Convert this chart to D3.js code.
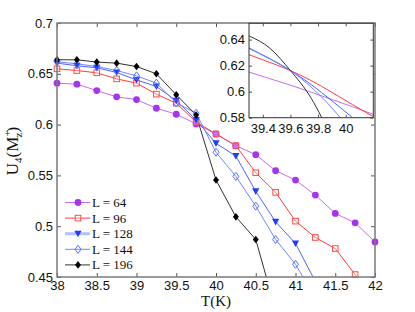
<!DOCTYPE html>
<html>
<head>
<meta charset="utf-8">
<script src="https://cdn.jsdelivr.net/npm/d3@7"></script>
<style>
  body { margin: 0; background: #fff; }
  svg { display: block; font-family: "Liberation Serif", "DejaVu Serif", serif; }
</style>
</head>
<body>
<script>
// temperatures (K)
const temps = [38, 38.25, 38.5, 38.75, 39, 39.25, 39.5, 39.75, 40, 40.25, 40.5, 40.75, 41, 41.25, 41.5, 41.75, 42];

// Binder cumulant U4 for each L
const u64  = [0.6408, 0.6398, 0.6335, 0.6273, 0.6246, 0.6161, 0.6102, 0.6007, 0.5908, 0.5792, 0.5704, 0.5546, 0.5454, 0.5306, 0.5126, 0.5033, 0.4845];
const u96  = [0.6549, 0.6532, 0.6510, 0.6450, 0.6408, 0.6300, 0.6210, 0.6025, 0.5908, 0.5792, 0.5526, 0.5333, 0.5050, 0.4889, 0.4780, 0.4524, 0.4250];
const u128 = [0.6605, 0.6579, 0.6559, 0.6513, 0.6440, 0.6375, 0.6235, 0.6046, 0.5816, 0.5690, 0.5343, 0.5043, 0.4830, 0.4455];
const u144 = [0.6618, 0.6598, 0.6572, 0.6532, 0.6480, 0.6408, 0.6215, 0.6112, 0.5728, 0.5490, 0.5198, 0.4869, 0.4625, 0.4290];
const u196 = [0.6638, 0.6638, 0.6615, 0.6605, 0.6572, 0.6500, 0.6293, 0.6095, 0.5454, 0.5092, 0.4869, 0.4175];

// inset: smooth fitted curves near the crossing
const fitT   = [39.3, 39.45, 39.6, 39.75, 39.9, 40.05, 40.2];
const fit64  = [0.6150, 0.6100, 0.6050, 0.5996, 0.5940, 0.5884, 0.5826];
const fit96  = [0.6284, 0.6225, 0.6162, 0.6085, 0.5995, 0.5900, 0.5808];
const fit128 = [0.6332, 0.6252, 0.6162, 0.6055, 0.5930, 0.5800, 0.5660];
const fit144 = [0.6337, 0.6255, 0.6162, 0.6035, 0.5875, 0.5680, 0.5460];
const fit196 = [0.6428, 0.6335, 0.6162, 0.5950, 0.5640, 0.5300, 0.4900];

const labels = ["L = 64", "L = 96", "L = 128", "L = 144", "L = 196"];
const xTicks = [38, 38.5, 39, 39.5, 40, 40.5, 41, 41.5, 42];
const yTicks = [0.45, 0.5, 0.55, 0.6, 0.65, 0.7];
const insetXTicks = [39.4, 39.6, 39.8, 40];
const insetYTicks = [0.58, 0.6, 0.62, 0.64];

const series = [
  {label: labels[0], u: u64,  fit: fit64,  line: "#c46ef2", mark: "#a633ee", sym: "circle"},
  {label: labels[1], u: u96,  fit: fit96,  line: "#ff3c3c", mark: "#ff4a4a", sym: "square"},
  {label: labels[2], u: u128, fit: fit128, line: "#4a66ff", mark: "#1f3cff", sym: "tri", legendLine: "#b4c2ff"},
  {label: labels[3], u: u144, fit: fit144, line: "#6f88ff", mark: "#5572ff", sym: "diamond"},
  {label: labels[4], u: u196, fit: fit196, line: "#333333", mark: "#000000", sym: "bdiamond"}
];

const width = 415, height = 312;
const m = {left: 57, right: 40, top: 23, bottom: 35};

const x = d3.scaleLinear().domain([38, 42]).range([m.left, width - m.right]);
const y = d3.scaleLinear().domain([0.45, 0.7]).range([height - m.bottom, m.top]);

const svg = d3.select("body").append("svg")
    .attr("width", width)
    .attr("height", height);

svg.append("defs").append("clipPath").attr("id", "clip")
  .append("rect")
    .attr("x", x(38)).attr("y", y(0.7))
    .attr("width", x(42) - x(38)).attr("height", y(0.45) - y(0.7));

// axes, ticks pointing inwards
function styleAxis(g) {
  g.select(".domain").remove();
  g.selectAll(".tick line").attr("stroke", "#555");
  g.selectAll(".tick text").attr("fill", "#111").style("font-size", "13px");
}

svg.append("g")
    .attr("transform", `translate(0,${y(0.45)})`)
    .call(d3.axisBottom(x).tickValues(xTicks).tickFormat(d3.format("")).tickSizeInner(-4).tickPadding(4))
    .call(styleAxis);
svg.append("g")
    .attr("transform", `translate(0,${y(0.7)})`)
    .call(d3.axisTop(x).tickValues(xTicks).tickFormat("").tickSizeInner(-4))
    .call(styleAxis);
svg.append("g")
    .attr("transform", `translate(${x(38)},0)`)
    .call(d3.axisLeft(y).tickValues(yTicks).tickFormat(d3.format("")).tickSizeInner(-4).tickPadding(4))
    .call(styleAxis);
svg.append("g")
    .attr("transform", `translate(${x(42)},0)`)
    .call(d3.axisRight(y).tickValues(yTicks).tickFormat("").tickSizeInner(-4))
    .call(styleAxis);

const plot = svg.append("g");

const line = d3.line()
    .x((d, i) => x(temps[i]))
    .y(d => y(d));

plot.selectAll(".series")
  .data(series)
  .enter().append("path")
    .attr("clip-path", "url(#clip)")
    .attr("fill", "none")
    .attr("stroke", d => d.line)
    .attr("stroke-width", 1)
    .attr("d", d => line(d.u));

function marker(g, sym, color) {
  if (sym === "circle") {
    g.append("circle").attr("r", 3.4).attr("fill", color);
  } else if (sym === "square") {
    g.append("rect").attr("x", -2.8).attr("y", -2.8).attr("width", 5.6).attr("height", 5.6)
      .attr("fill", "#fff").attr("fill-opacity", 0.3).attr("stroke", color).attr("stroke-width", 1);
  } else if (sym === "tri") {
    g.append("path").attr("d", "M-3.6,-3L3.6,-3L0,3.6Z").attr("fill", color);
  } else if (sym === "diamond") {
    g.append("path").attr("d", "M0,-4L3,0L0,4L-3,0Z").attr("fill", "none").attr("stroke", color).attr("stroke-width", 1);
  } else {
    g.append("path").attr("d", "M0,-3.8L3,0L0,3.8L-3,0Z").attr("fill", color);
  }
}

series.forEach(s => {
  s.u.forEach((v, i) => {
    if (v < 0.45) return;
    const g = plot.append("g").attr("transform", `translate(${x(temps[i])},${y(v)})`);
    marker(g, s.sym, s.mark);
  });
});

// frame
svg.append("rect")
    .attr("x", x(38)).attr("y", y(0.7))
    .attr("width", x(42) - x(38)).attr("height", y(0.45) - y(0.7))
    .attr("fill", "none").attr("stroke", "#7a7a7a").attr("stroke-width", 1.5);

// legend
const legend = svg.append("g");
series.forEach((s, i) => {
  const ly = 202.5 + i * 15.6;
  legend.append("line")
      .attr("x1", 65).attr("x2", 90).attr("y1", ly).attr("y2", ly)
      .attr("stroke", s.legendLine || s.line)
      .attr("stroke-width", s.legendLine ? 3 : 1);
  marker(legend.append("g").attr("transform", `translate(78,${ly})`), s.sym, s.mark);
  legend.append("text")
      .attr("x", 92).attr("y", ly + 4.5)
      .style("font-size", "13px")
      .attr("fill", "#111")
      .text(s.label);
});

// axis labels
svg.append("text")
    .attr("x", x(40)).attr("y", 306)
    .attr("text-anchor", "middle")
    .style("font-size", "15px")
    .attr("fill", "#111")
    .text("T(K)");

const yl = svg.append("text")
    .attr("transform", `translate(18,151) rotate(-90)`)
    .attr("text-anchor", "middle")
    .style("font-size", "17px")
    .attr("fill", "#111");
yl.append("tspan").text("U");
yl.append("tspan").attr("dy", 4).style("font-size", "11px").text("4");
yl.append("tspan").attr("dy", -4).text("(M");
yl.append("tspan").attr("dy", -7).style("font-size", "11px").text("+");
yl.append("tspan").attr("dx", -7).attr("dy", 11).style("font-size", "11px").text("z");
yl.append("tspan").attr("dy", -4).text(")");

// inset
const ix = d3.scaleLinear().domain([39.3, 40.2]).range([249, 373.3]);
const iy = d3.scaleLinear().domain([0.58, 0.6525]).range([117.7, 23.3]);

svg.append("defs").append("clipPath").attr("id", "iclip")
  .append("rect")
    .attr("x", ix(39.3)).attr("y", iy(0.6525))
    .attr("width", ix(40.2) - ix(39.3)).attr("height", iy(0.58) - iy(0.6525));

const inset = svg.append("g");
inset.append("rect")
    .attr("x", ix(39.3)).attr("y", iy(0.6525))
    .attr("width", ix(40.2) - ix(39.3)).attr("height", iy(0.58) - iy(0.6525))
    .attr("fill", "#fff");

const fitLine = d3.line()
    .x((d, i) => ix(fitT[i]))
    .y(d => iy(d))
    .curve(d3.curveNatural);

inset.selectAll(".fit")
  .data(series)
  .enter().append("path")
    .attr("clip-path", "url(#iclip)")
    .attr("fill", "none")
    .attr("stroke", d => d.line)
    .attr("stroke-width", 1)
    .attr("d", d => fitLine(d.fit));

inset.append("g")
    .attr("transform", `translate(0,${iy(0.58)})`)
    .call(d3.axisBottom(ix).tickValues(insetXTicks).tickFormat(d3.format("")).tickSizeInner(-3).tickPadding(6))
    .call(styleAxis);
inset.append("g")
    .attr("transform", `translate(0,${iy(0.6525)})`)
    .call(d3.axisTop(ix).tickValues(insetXTicks).tickFormat("").tickSizeInner(-3))
    .call(styleAxis);
inset.append("g")
    .attr("transform", `translate(${ix(39.3)},0)`)
    .call(d3.axisLeft(iy).tickValues(insetYTicks).tickFormat(d3.format("")).tickSizeInner(-3).tickPadding(4))
    .call(styleAxis);
inset.append("g")
    .attr("transform", `translate(${ix(40.2)},0)`)
    .call(d3.axisRight(iy).tickValues(insetYTicks).tickFormat("").tickSizeInner(-3))
    .call(styleAxis);

inset.append("rect")
    .attr("x", ix(39.3)).attr("y", iy(0.6525))
    .attr("width", ix(40.2) - ix(39.3)).attr("height", iy(0.58) - iy(0.6525))
    .attr("fill", "none").attr("stroke", "#333").attr("stroke-width", 1);
</script>
</body>
</html>
